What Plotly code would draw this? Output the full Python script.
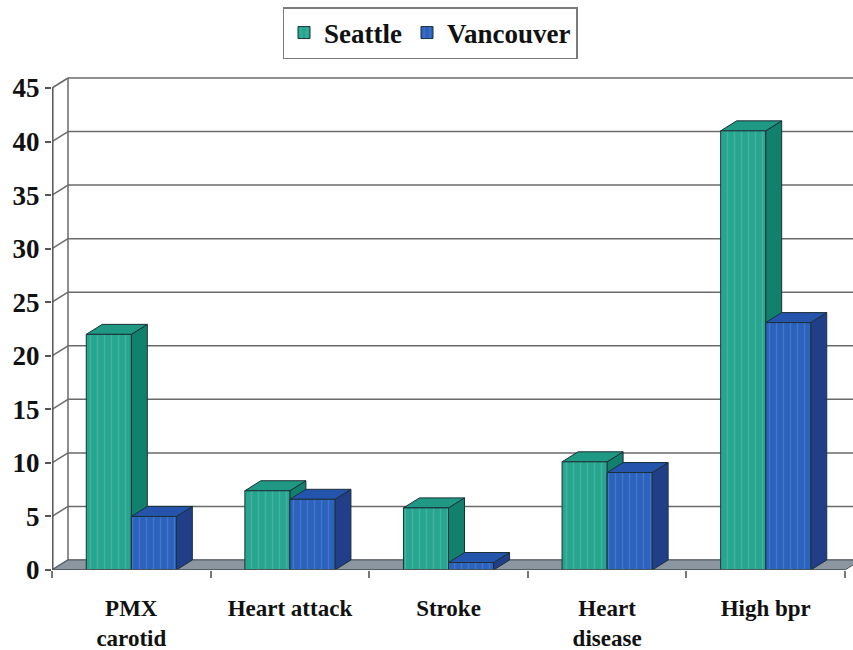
import plotly.graph_objects as go

# Survey results by condition, two cities
categories = ["PMX<br>carotid", "Heart attack", "Stroke", "Heart<br>disease", "High bpr"]
seattle = [22.0, 7.4, 5.8, 10.1, 41.0]
vancouver = [5.0, 6.6, 0.7, 9.1, 23.1]
y_ticks = [0, 5, 10, 15, 20, 25, 30, 35, 40, 45]

# Geometry of the pseudo-3D frame
W, H = 853, 650
M_L, M_R, M_T, M_B = 52, 0, 72, 80
PX_PER_CAT = 158.6
PX_PER_UNIT = 10.711
DEPTH_X_PX, DEPTH_Y_PX = 16, 10
BAR_W = 0.284
SERIF = "Liberation Serif, Times New Roman, serif"

plot_w = W - M_L - M_R
plot_h = H - M_T - M_B
x_range = [-0.5, -0.5 + plot_w / PX_PER_CAT]
y_range = [0, plot_h / PX_PER_UNIT]
DX = DEPTH_X_PX / PX_PER_CAT
DY = DEPTH_Y_PX / PX_PER_UNIT
n = len(categories)

colors = {
    "Seattle": dict(front="#27a68f", side="#11806d", top="#1f9884"),
    "Vancouver": dict(front="#2a62bd", side="#203f88", top="#2454ab"),
}
EDGE = "#1c3038"
GRID = "#6a6a6a"

fig = go.Figure()

series = [("Seattle", seattle, -BAR_W), ("Vancouver", vancouver, 0.0)]
for name, vals, off in series:
    c = colors[name]
    fig.add_trace(go.Bar(
        x=categories, y=vals, name=f"<b>{name}</b>",
        width=BAR_W, offset=off,
        marker=dict(color=c["front"], line=dict(color=EDGE, width=1),
                    pattern=dict(shape="|", fgcolor="rgba(255,255,255,0.25)",
                                 size=7, solidity=0.2)),
        hoverinfo="skip",
    ))

shapes = []

# back wall grid lines
for v in y_ticks:
    shapes.append(dict(type="line", xref="x", yref="y", layer="below",
                       x0=-0.5 + DX, x1=n - 0.5 + DX, y0=v + DY, y1=v + DY,
                       line=dict(color=GRID, width=1.5)))
    # side wall connectors from axis ticks to the back wall
    shapes.append(dict(type="line", xref="x", yref="y", layer="below",
                       x0=-0.5, x1=-0.5 + DX, y0=v, y1=v + DY,
                       line=dict(color=GRID, width=1.5)))
# back wall left edge
shapes.append(dict(type="line", xref="x", yref="y", layer="below",
                   x0=-0.5 + DX, x1=-0.5 + DX, y0=DY, y1=y_ticks[-1] + DY,
                   line=dict(color=GRID, width=1.5)))

# floor
shapes.append(dict(type="path", xref="x", yref="y", layer="between",
                   path=f"M {-0.5} 0 L {n - 0.5} 0 L {n - 0.5 + DX} {DY} "
                        f"L {-0.5 + DX} {DY} Z",
                   fillcolor="#8c96a0", line=dict(color="#4f5a60", width=1)))

# side and top faces of each bar
for i in range(n):
    for name, vals, off in series:
        c = colors[name]
        v = vals[i]
        xl = i + off
        xr = xl + BAR_W
        shapes.append(dict(type="path", xref="x", yref="y", layer="between",
                           path=f"M {xr} 0 L {xr + DX} {DY} L {xr + DX} {v + DY} "
                                f"L {xr} {v} Z",
                           fillcolor=c["side"], line=dict(color=EDGE, width=1)))
        shapes.append(dict(type="path", xref="x", yref="y", layer="between",
                           path=f"M {xl} {v} L {xr} {v} L {xr + DX} {v + DY} "
                                f"L {xl + DX} {v + DY} Z",
                           fillcolor=c["top"], line=dict(color=EDGE, width=1)))

# front baseline of the floor and the value axis line
shapes.append(dict(type="line", xref="x", yref="y", layer="above",
                   x0=-0.5, x1=n - 0.5, y0=0, y1=0,
                   line=dict(color="#555555", width=1.5)))
shapes.append(dict(type="line", xref="paper", yref="y", layer="above",
                   x0=0.001, x1=0.001, y0=0, y1=y_ticks[-1],
                   line=dict(color="#555555", width=1.5)))

fig.update_layout(
    width=W, height=H,
    margin=dict(l=M_L, r=M_R, t=M_T, b=M_B),
    plot_bgcolor="white", paper_bgcolor="white",
    barmode="overlay",
    shapes=shapes,
    showlegend=True,
    legend=dict(orientation="h", x=(430 - M_L) / plot_w, xanchor="center",
                y=(H - M_B - 33) / plot_h, yanchor="middle",
                bordercolor="#7a7a7a", borderwidth=1.5, bgcolor="white",
                font=dict(family=SERIF, size=27, color="#111111"),
                itemwidth=30, tracegroupgap=0),
    xaxis=dict(type="category", range=x_range, tickson="boundaries",
               ticks="outside", ticklen=7, tickcolor="#777777", tickwidth=1.5,
               ticklabelstandoff=22,
               showline=False, showgrid=False, zeroline=False,
               tickfont=dict(family=SERIF, size=23, color="#111111",
                             weight="bold")),
    yaxis=dict(range=y_range, tickvals=y_ticks, ticks="outside", ticklen=6,
               tickcolor="#555555", tickwidth=1.5,
               showline=False,
               showgrid=False, zeroline=False,
               tickfont=dict(family=SERIF, size=27, color="#111111",
                             weight="bold")),
)

fig.write_html("out.html")
